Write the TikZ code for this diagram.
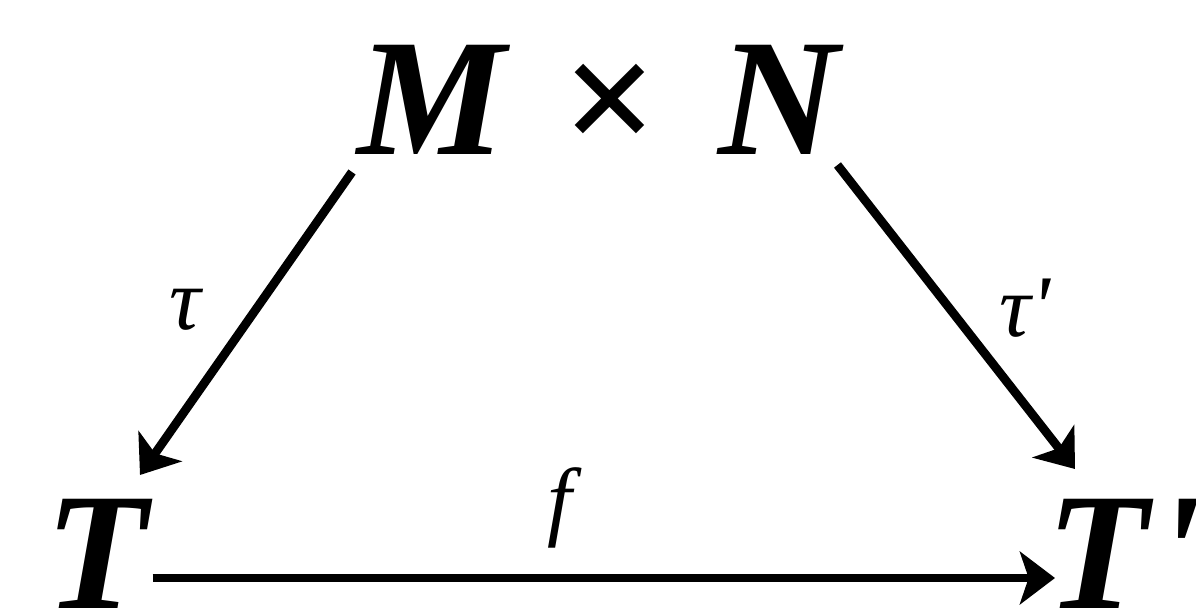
\documentclass[tikz,border=0pt]{standalone}
\usepackage{fontspec}
\setmainfont{Liberation Serif}
\newfontfamily\timesfont{Liberation Serif}
\usetikzlibrary{arrows.meta}

\begin{document}
\begin{tikzpicture}[x=0.02cm, y=-0.02cm,
    obj/.style={inner sep=0pt, font=\timesfont\fontsize{95}{100}\selectfont\bfseries\itshape},
    lbl/.style={inner sep=0pt, font=\timesfont\fontsize{50}{55}\selectfont\itshape},
    arr/.style={line width=5pt, -{Stealth[length=20pt, width=30pt, inset=5pt]}}]
  \useasboundingbox (0,0) rectangle (1196,614);
  % objects
  \node[obj, anchor=base west] (MN) at (357,155) {M\hspace{31pt}×\hspace{36pt}N};
  \node[obj, anchor=base west] (T) at (45,608) {T};
  \node[obj, anchor=base west] (Tp) at (1046,608) {T\hspace{4pt}\textquotesingle};
  % maps
  \draw[arr] ([shift={(-5,17)}]MN.base west) -- ([shift={(95,-133)}]T.base west);
  \draw[arr] ([shift={(-2,10)}]MN.base east) -- ([shift={(29,-139)}]Tp.base west);
  \draw[arr] ([shift={(5,-30)}]T.base east) -- ([shift={(9,-30)}]Tp.base west);
  \node[lbl] (tau) at (185,310) {τ};
  \node[lbl] (taup) at (1025,308) {τ\textquotesingle};
  \node[lbl] (f) at (560,508) {f};
\end{tikzpicture}
\end{document}
